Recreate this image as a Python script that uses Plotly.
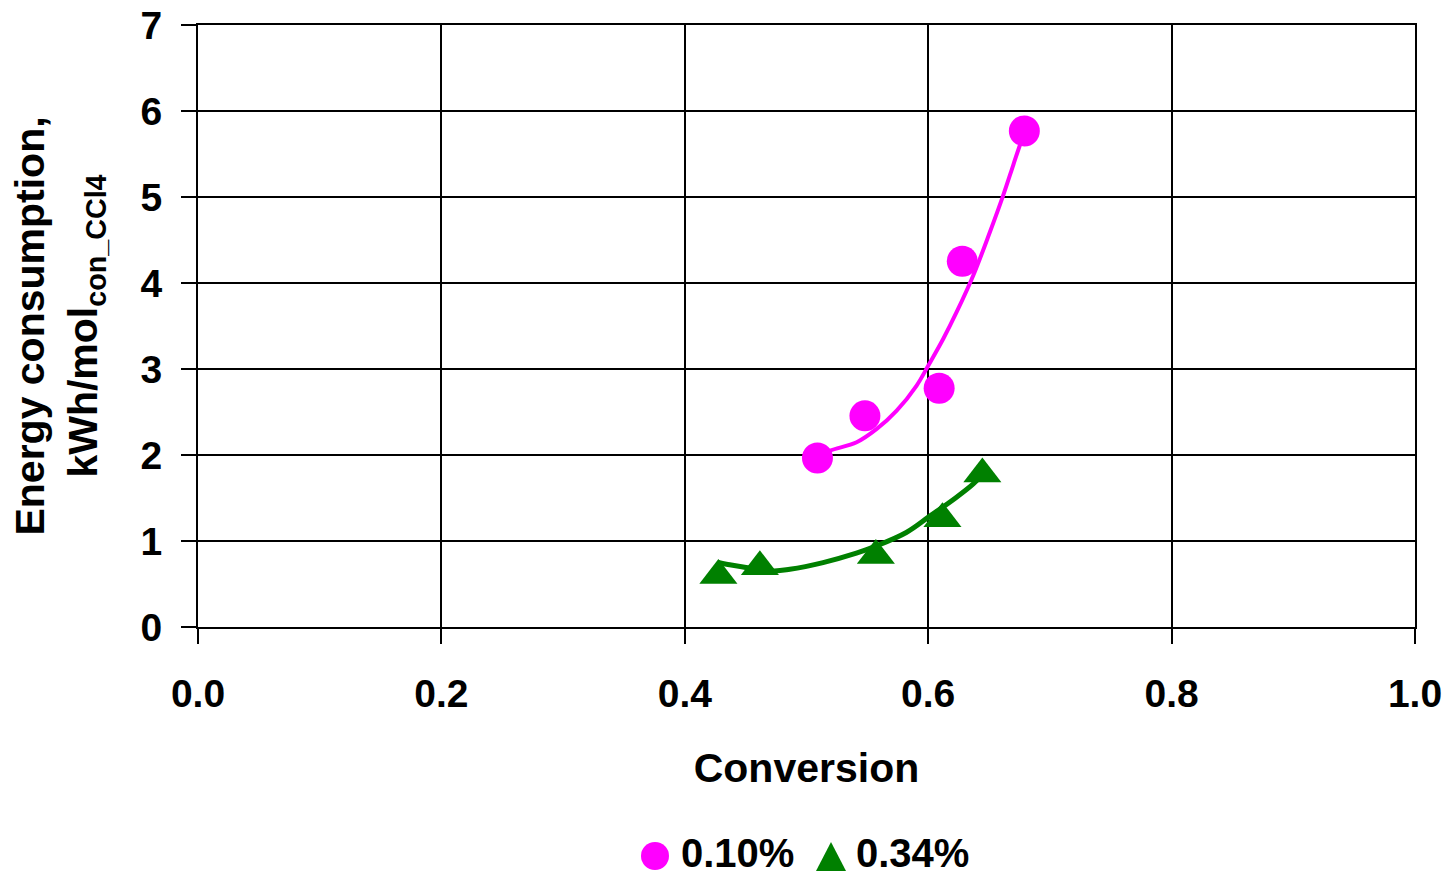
import plotly.graph_objects as go

# ---- data ----
conv_010 = [0.509, 0.548, 0.609, 0.628, 0.679]
energy_010 = [1.965, 2.455, 2.777, 4.253, 5.768]

conv_034 = [0.4276, 0.4617, 0.557, 0.6117, 0.6445]
energy_034 = [0.60, 0.70, 0.83, 1.26, 1.78]

# trend lines
trend_x_010 = [0.509, 0.5193, 0.5412, 0.5577, 0.5741, 0.5905, 0.6001, 0.6124,
               0.6234, 0.6371, 0.6508, 0.6617, 0.6699, 0.6754, 0.679]
trend_y_010 = [1.98, 2.05, 2.148, 2.303, 2.516, 2.808, 3.041, 3.352,
               3.663, 4.09, 4.596, 5.022, 5.372, 5.605, 5.74]

trend_x_034 = [0.4276, 0.4343, 0.4726, 0.4863, 0.5136, 0.541, 0.5575, 0.582,
               0.601, 0.623, 0.6368, 0.6445]
trend_y_034 = [0.75, 0.73, 0.652, 0.671, 0.749, 0.858, 0.943, 1.099,
               1.286, 1.507, 1.662, 1.77]

series_names = ["0.10%", "0.34%"]
x_ticks = [0.0, 0.2, 0.4, 0.6, 0.8, 1.0]
y_ticks = [0, 1, 2, 3, 4, 5, 6, 7]

MAGENTA = "#FF00FF"
GREEN = "#008000"
FONT = "Liberation Sans, Arial, sans-serif"

fig = go.Figure()

fig.add_trace(go.Scatter(x=trend_x_010, y=trend_y_010, mode="lines",
                         line=dict(color=MAGENTA, width=4, shape="spline"),
                         showlegend=False, hoverinfo="skip"))
fig.add_trace(go.Scatter(x=trend_x_034, y=trend_y_034, mode="lines",
                         line=dict(color=GREEN, width=5, shape="spline"),
                         showlegend=False, hoverinfo="skip"))
fig.add_trace(go.Scatter(x=conv_010, y=energy_010, mode="markers", name=series_names[0],
                         marker=dict(symbol="circle", size=31, color=MAGENTA),
                         showlegend=False))
fig.add_trace(go.Scatter(x=conv_034, y=energy_034, mode="markers", name=series_names[1],
                         marker=dict(symbol="triangle-up", size=33, color=GREEN),
                         showlegend=False))

axis_common = dict(
    showgrid=True, gridcolor="black", gridwidth=1.5,
    showline=True, linecolor="black", linewidth=2, mirror=True,
    ticks="outside", ticklen=15, tickwidth=1.5, tickcolor="black",
    zeroline=False, automargin=False,
    tickfont=dict(family=FONT, size=39, color="black", weight="bold"),
)

fig.update_xaxes(range=[0, 1], tickvals=x_ticks,
                 ticktext=[f"{v:.1f}" for v in x_ticks],
                 ticklabelstandoff=16,
                 title=dict(text="Conversion", standoff=40,
                            font=dict(family=FONT, size=41, color="black", weight="bold")),
                 **axis_common)
fig.update_yaxes(range=[0, 7], tickvals=y_ticks,
                 ticktext=[str(v) for v in y_ticks],
                 ticklabelstandoff=11,
                 title=dict(text="Energy consumption,<br>kWh/mol<sub>con_CCl4</sub>",
                            standoff=30,
                            font=dict(family=FONT, size=41, color="black", weight="bold")),
                 **axis_common)

# legend drawn below the plot
plot_h = 876 - 25 - 249
sym_y = (627 - 856) / plot_h
txt_y = (627 - 853) / plot_h
fig.add_shape(type="circle", xref="paper", yref="paper",
              xsizemode="pixel", ysizemode="pixel",
              xanchor=(655 - 198) / 1217, yanchor=sym_y,
              x0=-14, x1=14, y0=-14, y1=14,
              fillcolor=MAGENTA, line=dict(width=0))
fig.add_shape(type="path", xref="paper", yref="paper",
              xsizemode="pixel", ysizemode="pixel",
              xanchor=(831 - 198) / 1217, yanchor=sym_y,
              path="M -15,-15 L 15,-15 L 0,14 Z",
              fillcolor=GREEN, line=dict(width=0))
fig.add_annotation(text=series_names[0], xref="paper", yref="paper",
                   x=(679 - 198) / 1217, y=txt_y, xanchor="left", yanchor="middle",
                   showarrow=False,
                   font=dict(family=FONT, size=40, color="black", weight="bold"))
fig.add_annotation(text=series_names[1], xref="paper", yref="paper",
                   x=(854 - 198) / 1217, y=txt_y, xanchor="left", yanchor="middle",
                   showarrow=False,
                   font=dict(family=FONT, size=40, color="black", weight="bold"))

fig.update_layout(
    width=1450, height=876,
    margin=dict(l=198, r=35, t=25, b=249),
    plot_bgcolor="white", paper_bgcolor="white",
    showlegend=False,
    font=dict(family=FONT, color="black"),
)

fig.write_html("out.html", config={"displayModeBar": False},
               post_script="document.body.style.margin='0';")
